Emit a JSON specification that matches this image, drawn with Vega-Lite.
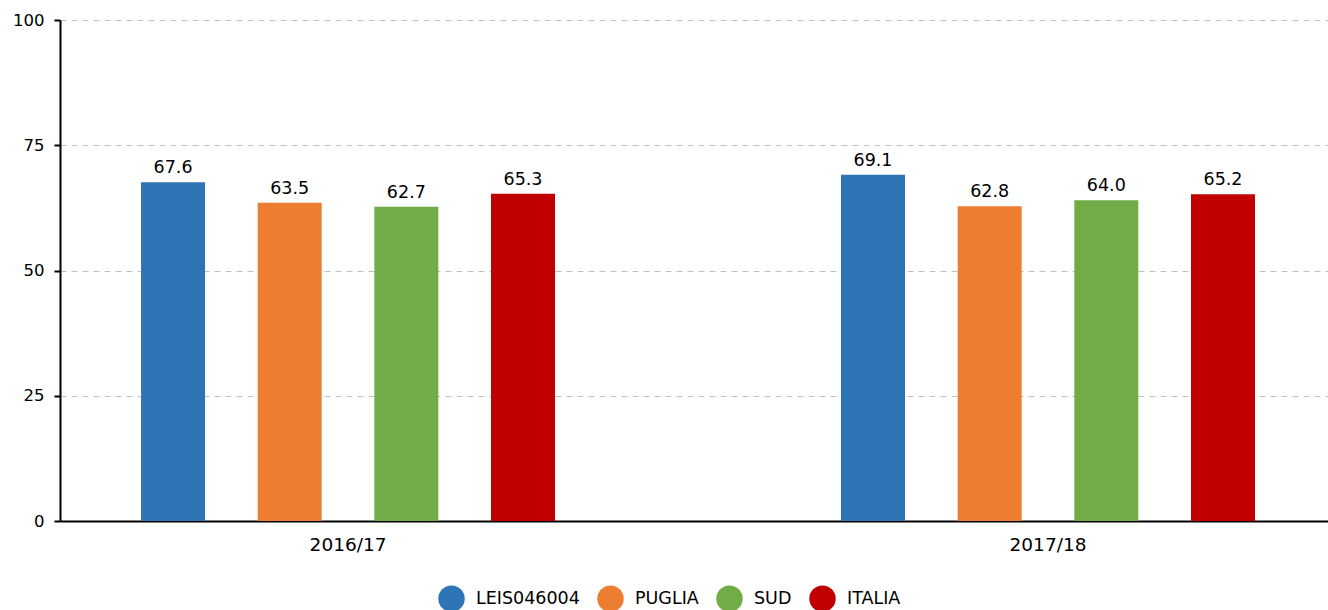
{
  "$schema": "https://vega.github.io/schema/vega-lite/v6.json",
  "autosize": "none",
  "width": 1268,
  "height": 501,
  "padding": {"left": 60, "top": 20, "right": 0, "bottom": 89},
  "background": "white",
  "config": {
    "font": "DejaVu Sans",
    "view": {"stroke": null}
  },
  "data": {
    "values": [
      {"anno": "2016/17", "serie": "LEIS046004", "valore": 67.6},
      {"anno": "2016/17", "serie": "PUGLIA", "valore": 63.5},
      {"anno": "2016/17", "serie": "SUD", "valore": 62.7},
      {"anno": "2016/17", "serie": "ITALIA", "valore": 65.3},
      {"anno": "2017/18", "serie": "LEIS046004", "valore": 69.1},
      {"anno": "2017/18", "serie": "PUGLIA", "valore": 62.8},
      {"anno": "2017/18", "serie": "SUD", "valore": 64.0},
      {"anno": "2017/18", "serie": "ITALIA", "valore": 65.2}
    ]
  },
  "encoding": {
    "x": {
      "field": "anno",
      "type": "nominal",
      "scale": {"paddingInner": 0.2857, "paddingOuter": 0.0486, "align": 0.559},
      "axis": {
        "title": null,
        "labelAngle": 0,
        "labelFontSize": 18.5,
        "labelColor": "#000000",
        "labelPadding": 14,
        "ticks": false,
        "domainColor": "#000000",
        "domainWidth": 2,
        "grid": false
      }
    },
    "xOffset": {
      "field": "serie",
      "type": "nominal",
      "sort": ["LEIS046004", "PUGLIA", "SUD", "ITALIA"],
      "scale": {"paddingInner": 0.4514, "paddingOuter": 0.3686}
    },
    "y": {
      "field": "valore",
      "type": "quantitative",
      "scale": {"domain": [0, 100], "nice": false},
      "axis": {
        "title": null,
        "values": [0, 25, 50, 75, 100],
        "labelFontSize": 16.5,
        "labelColor": "#000000",
        "labelPadding": 10,
        "tickColor": "#000000",
        "tickWidth": 2,
        "tickSize": 6,
        "domainColor": "#000000",
        "domainWidth": 2,
        "gridColor": "#c0c0c0",
        "gridDash": [6, 5],
        "gridWidth": 1
      }
    }
  },
  "layer": [
    {
      "mark": {"type": "bar"},
      "encoding": {
        "color": {
          "field": "serie",
          "type": "nominal",
          "scale": {
            "domain": ["LEIS046004", "PUGLIA", "SUD", "ITALIA"],
            "range": ["#2E75B6", "#ED7D31", "#70AD47", "#C00000"]
          },
          "legend": {
            "title": null,
            "orient": "none",
            "direction": "horizontal",
            "legendX": 378,
            "legendY": 565,
            "symbolType": "circle",
            "symbolSize": 700,
            "symbolStrokeWidth": 0,
            "symbolOpacity": 1,
            "labelFontSize": 17.5,
            "labelColor": "#000000",
            "labelOffset": 11,
            "columnPadding": 17
          }
        }
      }
    },
    {
      "mark": {"type": "text", "baseline": "alphabetic", "dy": -9, "fontSize": 17.5, "color": "#000000"},
      "encoding": {
        "text": {"field": "valore", "type": "quantitative", "format": ".1f"}
      }
    }
  ]
}
